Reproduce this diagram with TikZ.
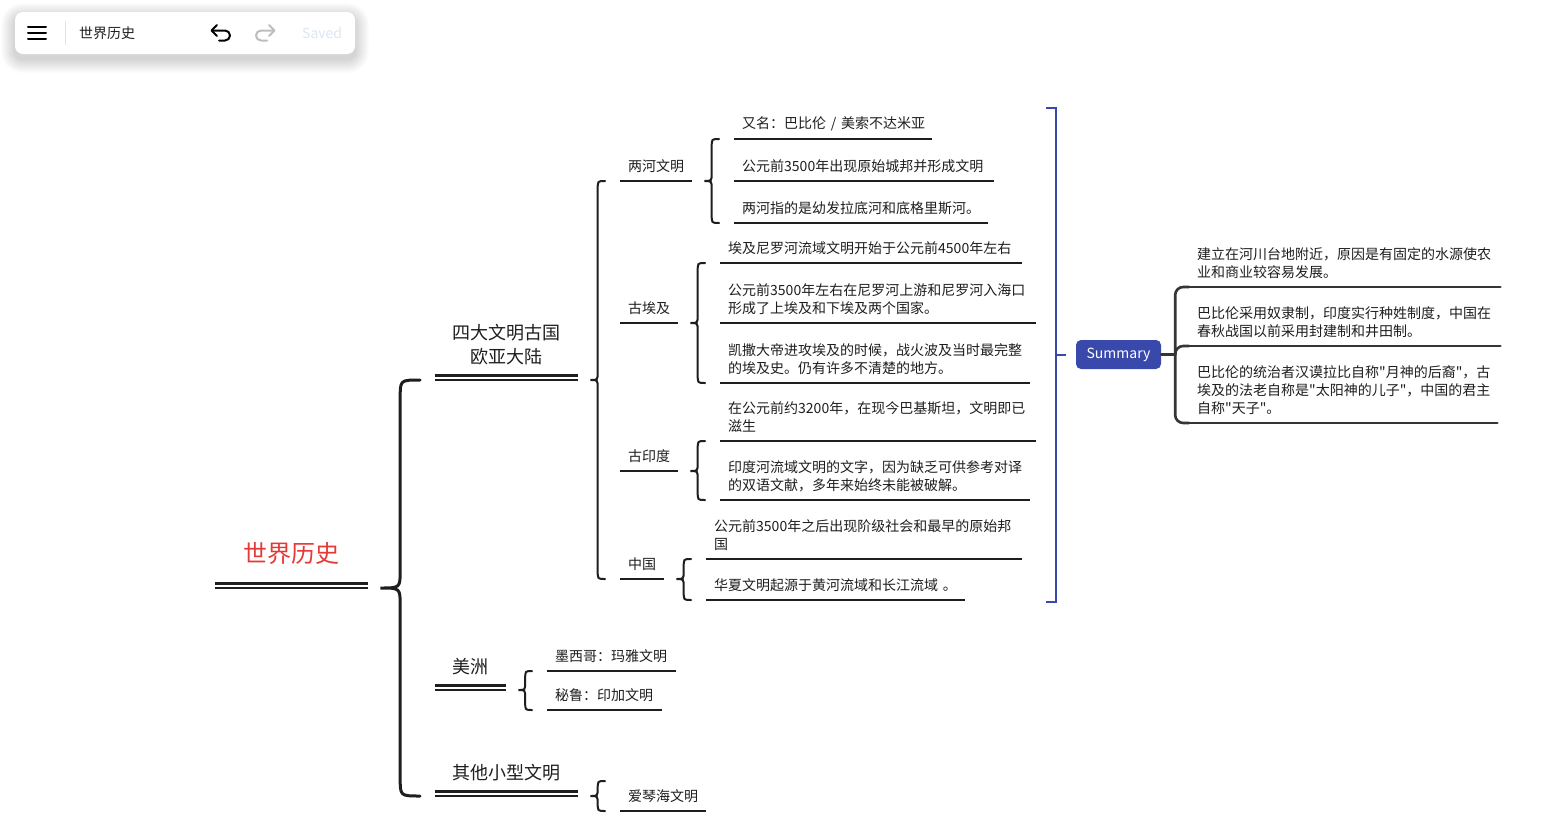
\documentclass[tikz,border=0pt]{standalone}
\usepackage{fontspec}
\setmainfont{Noto Sans CJK SC}
\newfontfamily\cjk{Noto Sans CJK SC}
\usetikzlibrary{calc}

\definecolor{ink}{HTML}{1E1E1E}
\definecolor{rootred}{HTML}{E53935}
\definecolor{sumblue}{HTML}{3949AB}
\definecolor{savedgray}{HTML}{DCE6F5}
\definecolor{redogray}{HTML}{BDBDBD}
\definecolor{sepgray}{HTML}{E3E3E3}

% curly brace: #2 parent anchor, #3 first child anchor, #4 last child anchor
\newcommand{\mmbrace}[4][8]{%
  \draw[brc] let \p1=($(#2)+(12,0)$), \p2=($(#3)+(-15,0)$), \p3=($(#4)+(-15,0)$),
    \n1={(\x1+\x2)/2} in
    (\p2) .. controls (\n1,\y2) .. (\n1,\y2-#1pt)
    -- (\n1,\y1+#1pt) .. controls (\n1,\y1) .. (\p1)
    .. controls (\n1,\y1) .. (\n1,\y1-#1pt)
    -- (\n1,\y3+#1pt) .. controls (\n1,\y3) .. (\p3);}

\begin{document}
\begin{tikzpicture}[x=1pt, y=-1pt,
  every node/.style={text=ink},
  root/.style={anchor=south west, inner xsep=8pt, inner ysep=23pt, align=center,
    text=rootred, font=\cjk\fontsize{24}{30}\selectfont},
  topic/.style={anchor=south west, inner xsep=8pt, inner ysep=15pt, align=center,
    font=\cjk\fontsize{18}{24}\selectfont},
  leaf/.style={anchor=south west, inner xsep=8pt, inner ysep=8pt, align=left,
    font=\cjk\fontsize{14}{18}\selectfont},
  sumbox/.style={fill=sumblue, text=white, rounded corners=5pt, minimum width=85pt,
    minimum height=29pt, inner sep=0pt, font=\cjk\fontsize{14}{16}\selectfont},
  bar/.style={fill=white, rounded corners=8pt, minimum width=340pt, minimum height=42pt},
  uline/.style={ink, line width=2pt},
  dline/.style={ink, line width=2.2pt},
  brc/.style={ink, line width=2pt, line cap=round},
  sline/.style={ink!90, line width=2.6pt, line cap=round},
  bline/.style={sumblue, line width=2pt},
  icon/.style={line width=2pt, line cap=round, line join=round}]

\fill[white] (0,0) rectangle (1559,827);
\useasboundingbox (0,0) rectangle (1559,827);

% toolbar
\foreach \i in {1,...,14}
  \fill[black, opacity=0.01, rounded corners=8pt+\i pt]
    (15-\i,12-\i+5) rectangle (355+\i,54+\i+5);
\node[bar] (bar) at (185,33) {};
\draw[icon] (28,27) -- (46,27) (28,33) -- (46,33) (28,39) -- (46,39);
\draw[sepgray, line width=1pt] (65,21) -- (65,45);
\node[anchor=west, inner sep=0pt, font=\cjk\fontsize{14}{16}\selectfont] (title) at (79,33) {世界历史};
\draw[icon] (217,25) -- (211.5,30.5) -- (217,36);
\draw[icon] (212,30.5) -- (225,30.5) arc[start angle=-90, end angle=90, radius=5] -- (219,40.5);
\draw[icon, redogray] (269,25) -- (274.5,30.5) -- (269,36);
\draw[icon, redogray] (274,30.5) -- (261,30.5) arc[start angle=-90, end angle=-270, radius=5] -- (267,40.5);
\node[anchor=west, inner sep=0pt, text=savedgray, font=\cjk\fontsize{14}{16}\selectfont] (saved) at (302,33) {Saved};

% topics
\node[root, text width=137pt] (R) at (215,588) {世界历史};
\node[topic, text width=127pt] (A) at (435,380) {四大文明古国\\欧亚大陆};
\node[topic, text width=55pt] (B) at (435,690) {美洲};
\node[topic, text width=127pt] (C) at (435,796) {其他小型文明};

\node[leaf, text width=56pt] (A1) at (620,181) {两河文明};
\node[leaf, text width=42pt] (A2) at (620,323) {古埃及};
\node[leaf, text width=42pt] (A3) at (620,471) {古印度};
\node[leaf, text width=28pt] (A4) at (620,579) {中国};

\node[leaf, text width=182pt] (A1a) at (734,139) {又名：巴比伦~/~美索不达米亚};
\node[leaf, text width=244pt] (A1b) at (734,181) {公元前3500年出现原始城邦并形成文明};
\node[leaf, text width=238pt] (A1c) at (734,223) {两河指的是幼发拉底河和底格里斯河。};

\node[leaf, text width=286pt] (A2a) at (720,263) {埃及尼罗河流域文明开始于公元前4500年左右};
\node[leaf, text width=300pt] (A2b) at (720,323) {公元前3500年左右在尼罗河上游和尼罗河入海口\\形成了上埃及和下埃及两个国家。};
\node[leaf, text width=294pt] (A2c) at (720,383) {凯撒大帝进攻埃及的时候，战火波及当时最完整\\的埃及史。仍有许多不清楚的地方。};

\node[leaf, text width=300pt] (A3a) at (720,441) {在公元前约3200年，在现今巴基斯坦，文明即已\\滋生};
\node[leaf, text width=294pt] (A3b) at (720,500) {印度河流域文明的文字，因为缺乏可供参考对译\\的双语文献，多年来始终未能被破解。};

\node[leaf, text width=300pt] (A4a) at (706,559) {公元前3500年之后出现阶级社会和最早的原始邦\\国};
\node[leaf, text width=243pt] (A4b) at (706,600) {华夏文明起源于黄河流域和长江流域~。};

\node[leaf, text width=113pt] (B1) at (547,671) {墨西哥：玛雅文明};
\node[leaf, text width=99pt] (B2) at (547,710) {秘鲁：印加文明};
\node[leaf, text width=70pt] (C1) at (620,811) {爱琴海文明};
\coordinate (C1top) at ($(C1.south west)+(0,-30)$);

% underlines
\foreach \n in {R,A,B,C}{
  \draw[dline] (\n.south west) -- (\n.south east);
  \draw[dline] ([yshift=4.5pt]\n.south west) -- ([yshift=4.5pt]\n.south east);}
\foreach \n in {A1,A2,A3,A4,A1a,A1b,A1c,A2a,A2b,A2c,A3a,A3b,A4a,A4b,B1,B2,C1}
  \draw[uline] (\n.south west) -- (\n.south east);

% braces
\begin{scope}[brc/.append style={line width=3pt}]
\mmbrace[18]{R.south east}{A.south west}{C.south west}
\end{scope}
\mmbrace{A.south east}{A1.south west}{A4.south west}
\mmbrace{A1.south east}{A1a.south west}{A1c.south west}
\mmbrace{A2.south east}{A2a.south west}{A2c.south west}
\mmbrace{A3.south east}{A3a.south west}{A3b.south west}
\mmbrace{A4.south east}{A4a.south west}{A4b.south west}
\mmbrace{B.south east}{B1.south west}{B2.south west}
\mmbrace{C.south east}{C1top}{C1.south west}

% summary
\node[sumbox] (summ) at (1118.5,354.5) {Summary};
\coordinate (brtop) at (1046,108);
\coordinate (brbot) at (1046,602);
\draw[bline] (brtop) -- ++(10,0) |- (brbot);
\draw[bline] ($(summ.west)+(-10,0)$) -- ++(-10,0);

\node[leaf, text width=295pt] (S1) at (1189,287) {建立在河川台地附近，原因是有固定的水源使农\\业和商业较容易发展。};
\node[leaf, text width=295pt] (S2) at (1189,346) {巴比伦采用奴隶制，印度实行种姓制度，中国在\\春秋战国以前采用封建制和井田制。};
\node[leaf, text width=292pt] (S3) at (1189,423) {巴比伦的统治者汉谟拉比自称"月神的后裔"，古\\埃及的法老自称是"太阳神的儿子"，中国的君主\\自称"天子"。};

\draw[sline] (summ.east) -- ++(14,0) coordinate (fork);
\foreach \n in {S1,S2,S3}{
  \draw[sline, rounded corners=8pt] (fork) |- (\n.south west);
  \draw[sline] (\n.south west) -- (\n.south east);}

\end{tikzpicture}
\end{document}
